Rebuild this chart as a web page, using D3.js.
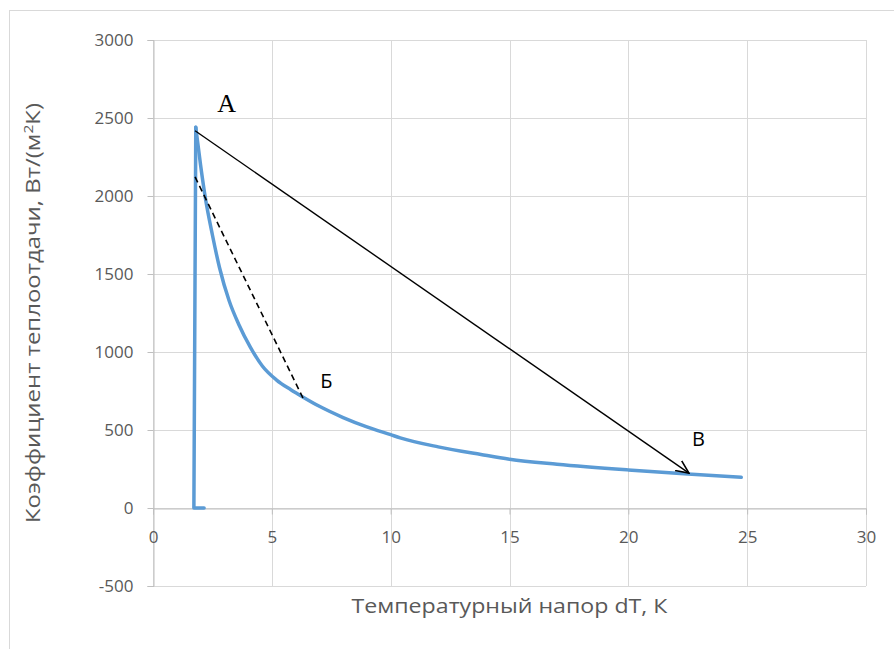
<!DOCTYPE html>
<html>
<head>
<meta charset="utf-8">
<script src="https://cdn.jsdelivr.net/npm/d3@7/dist/d3.min.js"></script>
<style>
  html, body { margin: 0; padding: 0; background: #fff; }
  svg { display: block; }
  .tick text { font-family: "Open Sans", "Noto Sans", sans-serif; }
</style>
</head>
<body>
<div id="chart"></div>
<script>
// Heat transfer coefficient vs temperature difference
// rise: start-up branch up to the peak
const riseDT    = [2.15, 1.72, 1.80];
const riseAlpha = [0,    0,    2440];
// decay: from the peak down along the boiling curve
const decayDT    = [1.80, 2.00, 2.20, 2.50, 2.80, 3.20, 3.60, 4.10, 4.60, 5.20, 5.80, 6.30, 7.00, 8.00, 9.00, 10.0, 10.4, 12.0, 13.8, 15.0, 17.0, 20.0, 22.5, 24.75];
const decayAlpha = [2440, 2200, 1990, 1750, 1540, 1330, 1180, 1030, 910,  820,  758,  712,  652,  580,  520,  470,  450,  392,  343,  313,  281,  244,  218,  197];

const xTicks = [0, 5, 10, 15, 20, 25, 30];
const yTicks = [-500, 0, 500, 1000, 1500, 2000, 2500, 3000];

// Annotation segments: A -> В (solid, arrow) and dashed tangent to Б
const lineAV_x = [1.77, 22.55];
const lineAV_y = [2418, 224];
const dashB_x  = [1.77, 6.31];
const dashB_y  = [2122, 705];

const labelNames = ["А", "Б", "В"];
const labelX     = [3.1, 7.3, 22.95];
const labelY     = [2540, 770, 400];

const W = 894, H = 649;
const svg = d3.select("#chart").append("svg").attr("width", W).attr("height", H);

svg.append("rect").attr("width", W).attr("height", H).attr("fill", "#fff");
// outer chart frame
svg.append("rect").attr("x", 9.5).attr("y", 10.5).attr("width", 900).attr("height", 660)
  .attr("fill", "none").attr("stroke", "#d9d9d9").attr("stroke-width", 1);

const x = d3.scaleLinear().domain([0, 30]).range([153, 866]);
const y = d3.scaleLinear().domain([-500, 3000]).range([586, 40]);

// gridlines
const grid = svg.append("g");
grid.selectAll(".gx").data(xTicks).join("line")
  .attr("x1", d => Math.round(x(d)) + 0.5).attr("x2", d => Math.round(x(d)) + 0.5)
  .attr("y1", y(3000)).attr("y2", y(-500))
  .attr("stroke", "#d9d9d9").attr("stroke-width", 1);
grid.selectAll(".gy").data(yTicks).join("line")
  .attr("x1", x(0)).attr("x2", x(30))
  .attr("y1", d => Math.round(y(d)) + 0.5).attr("y2", d => Math.round(y(d)) + 0.5)
  .attr("stroke", "#d9d9d9").attr("stroke-width", 1);

const fmt = d => String(d);
// y axis at x = 0
const yAxis = svg.append("g")
  .attr("transform", `translate(${Math.round(x(0)) + 0.5},0)`)
  .call(d3.axisLeft(y).tickValues(yTicks).tickSize(6).tickPadding(14).tickFormat(fmt));
// x axis at y = 0
const xAxis = svg.append("g")
  .attr("transform", `translate(0,${Math.round(y(0)) + 0.5})`)
  .call(d3.axisBottom(x).tickValues(xTicks).tickSize(6).tickPadding(16).tickFormat(fmt));

[yAxis, xAxis].forEach(g => {
  g.select(".domain").attr("stroke", "#bfbfbf");
  g.selectAll(".tick line").attr("stroke", "#bfbfbf");
  g.selectAll(".tick text").attr("fill", "#595959").style("font-size", "17px");
});

// axis titles
svg.append("text")
  .attr("x", x(15)).attr("y", 613)
  .attr("text-anchor", "middle")
  .attr("fill", "#595959")
  .attr("textLength", 316).attr("lengthAdjust", "spacingAndGlyphs")
  .style("font-family", "'Open Sans', 'Noto Sans', sans-serif")
  .style("font-size", "20px")
  .text("Температурный напор dT, К");

const yTitle = svg.append("text")
  .attr("transform", `translate(40,${y(1250)}) rotate(-90)`)
  .attr("text-anchor", "middle")
  .attr("fill", "#595959")
  .attr("textLength", 420).attr("lengthAdjust", "spacingAndGlyphs")
  .style("font-family", "'Open Sans', 'Noto Sans', sans-serif")
  .style("font-size", "20px");
yTitle.append("tspan").text("Коэффициент теплоотдачи, Вт/(м");
yTitle.append("tspan").attr("dy", -7).style("font-size", "13px").text("2");
yTitle.append("tspan").attr("dy", 7).text("К)");

// data curve
const curveStyle = p => p.attr("fill", "none")
  .attr("stroke", "#5b9bd5")
  .attr("stroke-width", 3.5)
  .attr("stroke-linejoin", "round")
  .attr("stroke-linecap", "round");

svg.append("path")
  .datum(riseDT.map((v, i) => [v, riseAlpha[i]]))
  .call(curveStyle)
  .attr("d", d3.line().x(d => x(d[0])).y(d => y(d[1])));

svg.append("path")
  .datum(decayDT.map((v, i) => [v, decayAlpha[i]]))
  .call(curveStyle)
  .attr("d", d3.line().x(d => x(d[0])).y(d => y(d[1])).curve(d3.curveMonotoneX));

// arrow marker
svg.append("defs").append("marker")
  .attr("id", "arr")
  .attr("viewBox", "0 0 12 12")
  .attr("refX", 11).attr("refY", 6)
  .attr("markerWidth", 14).attr("markerHeight", 14)
  .attr("markerUnits", "userSpaceOnUse")
  .attr("orient", "auto")
  .append("path")
  .attr("d", "M0,1 L11,6 L0,11")
  .attr("fill", "none").attr("stroke", "#000").attr("stroke-width", 1.4);

const seg = d3.line().x(d => x(d[0])).y(d => y(d[1]));
svg.append("path")
  .datum(lineAV_x.map((v, i) => [v, lineAV_y[i]]))
  .attr("d", seg)
  .attr("fill", "none").attr("stroke", "#000").attr("stroke-width", 1.4)
  .attr("marker-end", "url(#arr)");

svg.append("path")
  .datum(dashB_x.map((v, i) => [v, dashB_y[i]]))
  .attr("d", seg)
  .attr("fill", "none").attr("stroke", "#000").attr("stroke-width", 1.6)
  .attr("stroke-dasharray", "6,4");

// point labels
svg.selectAll(".plabel").data(labelNames).join("text")
  .attr("x", (d, i) => x(labelX[i]))
  .attr("y", (d, i) => y(labelY[i]))
  .attr("text-anchor", "middle")
  .attr("fill", "#000")
  .style("font-family", (d, i) => i === 0 ? "'Liberation Serif', 'DejaVu Serif', serif" : "'Open Sans', 'Noto Sans', sans-serif")
  .style("font-size", (d, i) => i === 0 ? "26px" : "20px")
  .text(d => d);
</script>
</body>
</html>
